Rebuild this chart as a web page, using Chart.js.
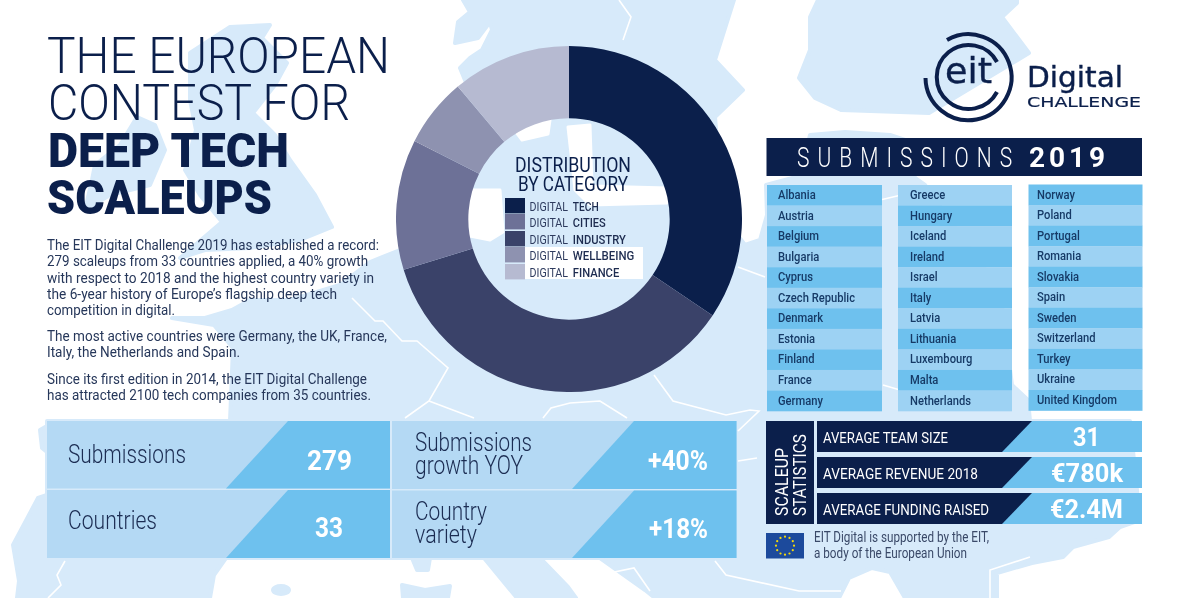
<!DOCTYPE html>
<html>
<head>
<meta charset="utf-8">
<title>EIT Digital Challenge 2019</title>
<script src="https://cdn.jsdelivr.net/npm/chart.js@4"></script>
<style>
html, body { margin: 0; padding: 0; background: #fff; }
#page { position: relative; width: 1200px; height: 598px; overflow: hidden; background: #fff; }
#map, #overlay { position: absolute; left: 0; top: 0; }
#donutBox { position: absolute; left: 396px; top: 46px; width: 346px; height: 346px; }
text { font-family: Roboto, sans-serif; }
</style>
</head>
<body>
<div id="page">
  <!-- background map, only decoration -->
  <svg id="map" width="1200" height="598">
    <g fill="#d7eafa" stroke="#d7eafa" stroke-width="4" stroke-linejoin="round">
      <path d="M172,318 L205,318 232,310 250,300 290,300 340,285 370,262 400,250 420,225 440,150 467,85 460,68 470,58 482,50 492,30 490,22 478,38 455,43 458,22 470,12 463,0 734,0 715,60 743,90 715,117 720,180 730,225 745,245 760,240 767,215 766,185 800,176 810,135 845,132 890,135 905,140 915,178 925,185 1000,290 1012,385 1028,400 1030,421 1130,421 1140,520 1120,527 1109,537 1073,547 1063,557 1032,563 997,573 997,598 905,598 890,572 872,568 849,578 839,598 655,598 645,590 600,558 540,558 568,587 576,598 517,598 484,558 430,558 428,570 417,570 412,558 226,558 214,575 210,598 17,598 19,581 13,545 38,498 47,495 47,421 230,421 233,348 214,325 z"/>
      <path d="M818,0 L810,17 810,50 799,78 815,98 841,110 929,113 1029,53 1002,17 1017,3 1017,0 z"/>
      <path d="M230,27 L270,25 262,38 287,63 275,85 253,113 275,135 290,160 315,195 332,227 300,240 250,248 205,250 180,258 222,222 200,195 185,170 196,130 190,100 190,53 z"/>
      <path d="M137,117 L155,125 165,150 150,185 110,195 85,210 92,180 95,165 120,145 z"/>
      <path d="M40,430 L47,426 47,452 42,448 z"/>
      <ellipse cx="281" cy="590" rx="8" ry="4"/>
      <path d="M402,585 L425,590 450,586 448,598 403,598 z"/>
    </g>
    <!-- sea inside the donut hole -->
    <g fill="#fff" stroke="#fff" stroke-width="3" stroke-linejoin="round">
      <path d="M468,190 L500,190 503,232 490,240 470,236 z"/>
      <path d="M510,124 L550,120 548,134 522,140 z"/>
      <path d="M568,127 L590,125 592,186 667,188 667,203 590,205 575,190 z"/>
    </g>
    <g fill="none" stroke="#fff" stroke-width="1.6">
      <path d="M352,298 L375,321 383,321 402,341 417,341 448,368 429,401 405,418"/>
      <path d="M429,401 L474,418"/>
      <path d="M543,418 L551,408 570,403 600,401 627,418"/>
      <path d="M654,375 L673,401 726,415 750,410 759,411 738,431"/>
      <path d="M738,461 L757,458"/>
      <path d="M600,575 L634,568 650,591"/>
      <path d="M715,561 L726,575 799,591 841,591"/>
      <path d="M65,561 L57,575 61,585 48,598"/>
      <path d="M619,0 L631,17 623,40"/>
      <path d="M880,200 L910,193"/>
      <path d="M738,267 L765,277"/>
      <path d="M883,385 L900,390"/>
      <path d="M990,598 L990,570 1030,557"/>
    </g>
  </svg>
  <div id="donutBox"><canvas id="donut"></canvas></div>
  <svg id="overlay" width="1200" height="598"></svg>
</div>

<script>
// doughnut, clockwise from the top
const categories = ['Digital Tech', 'Digital Industry', 'Digital Cities', 'Digital Wellbeing', 'Digital Finance'];
const shares = [96, 100, 34, 18, 31];
const sliceColors = ['#0b1f4b', '#3a4269', '#6d7197', '#8e92b0', '#b6bad1'];

// legend reads in a different order than the slices
const legendNames = ['TECH', 'CITIES', 'INDUSTRY', 'WELLBEING', 'FINANCE'];

const countriesA = ['Albania', 'Austria', 'Belgium', 'Bulgaria', 'Cyprus', 'Czech Republic', 'Denmark', 'Estonia', 'Finland', 'France', 'Germany'];
const countriesB = ['Greece', 'Hungary', 'Iceland', 'Ireland', 'Israel', 'Italy', 'Latvia', 'Lithuania', 'Luxembourg', 'Malta', 'Netherlands'];
const countriesC = ['Norway', 'Poland', 'Portugal', 'Romania', 'Slovakia', 'Spain', 'Sweden', 'Switzerland', 'Turkey', 'Ukraine', 'United Kingdom'];

const scaleupLabels = ['AVERAGE TEAM SIZE', 'AVERAGE REVENUE 2018', 'AVERAGE FUNDING RAISED'];
const scaleupValues = ['31', '€780k', '€2.4M'];

const NAVY = '#0b1f4b';
const BLUE = '#6ec1ee';
const PALE = '#b4d9f4';
const ROW = '#9dd2f3';
const INK = '#1b2c52';

new Chart(document.getElementById('donut'), {
    type: 'doughnut',
    data: {
        labels: categories,
        datasets: [{ data: shares, backgroundColor: sliceColors, borderWidth: 0 }]
    },
    options: {
        responsive: true,
        maintainAspectRatio: false,
        animation: false,
        cutout: '58.2%',
        layout: { padding: 0 },
        plugins: { legend: { display: false }, tooltip: { enabled: false } }
    }
});

const overlay = document.getElementById('overlay');

function el(name, attrs, parent) {
    const node = document.createElementNS('http://www.w3.org/2000/svg', name);
    for (const k in attrs) node.setAttribute(k, attrs[k]);
    (parent || overlay).appendChild(node);
    return node;
}
function rect(x, y, w, h, fill) {
    return el('rect', { x: x, y: y, width: w, height: h, fill: fill });
}
function poly(points, fill) {
    return el('polygon', { points: points, fill: fill });
}
function label(str, x, y, width, size, weight, fill, extra) {
    const t = el('text', Object.assign({ x: x, y: y, 'font-size': size, 'font-weight': weight, fill: fill }, extra || {}));
    t.textContent = str;
    if (width) {
        t.setAttribute('textLength', width);
        t.setAttribute('lengthAdjust', 'spacingAndGlyphs');
    }
    return t;
}
function narrow(str, x, y, ratio, size, weight, fill) {
    const t = label(str, x, y, 0, size, weight, fill);
    t.setAttribute('textLength', (t.getComputedTextLength() * ratio).toFixed(1));
    t.setAttribute('lengthAdjust', 'spacingAndGlyphs');
    return t;
}

// headline
label('THE EUROPEAN', 47, 73, 343, 49.5, 300, NAVY);
label('CONTEST FOR', 48, 120, 302, 49.5, 300, NAVY);
label('DEEP TECH', 48, 167, 241, 48, 900, NAVY);
label('SCALEUPS', 47, 214, 225, 48, 900, NAVY);

// intro copy
const copy = [
    ['The EIT Digital Challenge 2019 has established a record:', 250, 332],
    ['279 scaleups from 33 countries applied, a 40% growth', 266, 321],
    ['with respect to 2018 and the highest country variety in', 283, 327],
    ['the 6-year history of Europe\u2019s flagship deep tech', 299, 290],
    ['competition in digital.', 315, 128],
    ['The most active countries were Germany, the UK, France,', 341, 340],
    ['Italy, the Netherlands and Spain.', 357, 193],
    ['Since its first edition in 2014, the EIT Digital Challenge', 384, 320],
    ['has attracted 2100 tech companies from 35 countries.', 400, 324]
];
copy.forEach(c => label(c[0], 47, c[1], c[2], 14.5, 400, '#26375a'));

// four number panels
function panel(x, y, h, wedgeTop, wedgeBottom, right) {
    rect(x, y, right - x, h, PALE);
    poly(`${wedgeTop},${y} ${right},${y} ${right},${y + h} ${wedgeBottom},${y + h}`, BLUE);
}
panel(47, 421, 67.5, 288, 226, 390);
panel(47, 490, 68, 288, 226, 390);
panel(392, 421, 68, 634, 572, 736.5);
panel(392, 490.5, 67.5, 634, 572, 736.5);

label('Submissions', 68, 463, 118, 25, 300, INK);
label('Countries', 68, 529, 89, 25, 300, INK);
label('Submissions', 415, 451, 117, 25, 300, INK);
label('growth YOY', 415, 474, 108, 25, 300, INK);
label('Country', 415, 520, 72, 25, 300, INK);
label('variety', 415, 543, 62, 25, 300, INK);
label('279', 307, 470, 45, 28, 700, '#fff');
label('33', 315, 537, 28, 28, 700, '#fff');
label('+40%', 648, 470, 60, 28, 700, '#fff');
label('+18%', 649, 538, 59, 28, 700, '#fff');

// donut centre
label('DISTRIBUTION', 515, 172, 116, 20, 400, NAVY);
label('BY CATEGORY', 518, 191, 110, 20, 400, NAVY);
rect(525, 247, 118, 32, '#fff');
const legendTops = [198, 214, 231, 247, 264];
const legendBases = [211, 227, 244, 260, 277];
const legendColors = [sliceColors[0], sliceColors[2], sliceColors[1], sliceColors[3], sliceColors[4]];
const legendWidths = [26, 33, 53, 61.5, 46.5];
legendNames.forEach((name, i) => {
    rect(505, legendTops[i], 20, 15.4, legendColors[i]);
    label('DIGITAL', 529.5, legendBases[i], 38.5, 13, 400, '#2e3b5e');
    label(name, 572.8, legendBases[i], legendWidths[i], 13, 500, '#1e2c50');
});

// logo
const logo = { stroke: NAVY, fill: 'none', 'stroke-width': 4 };
el('path', Object.assign({ d: 'M947,40 A43,43 0 1 1 925.5,78' }, logo));
el('path', Object.assign({ d: 'M997,62 A32,32 0 1 0 997,92' }, logo));
const logoFont = { style: 'font-family:"DejaVu Sans"', stroke: NAVY, 'stroke-width': 0.4 };
label('eit', 945, 83, 47, 36, 400, NAVY, logoFont);
label('Digital', 1027, 87, 96, 28, 400, NAVY, logoFont);
label('CHALLENGE', 1027, 107, 114, 14, 400, NAVY, { style: 'font-family:"DejaVu Sans"', stroke: NAVY, 'stroke-width': 0.2 });

// submissions list, narrow glyphs with wide spacing
const subTitle = label('SUBMISSIONS', 0, 167, 0, 28, 300, '#fff', { transform: 'translate(797 0) scale(0.75 1)' });
overlay.insertBefore(rect(766.5, 138, 375.5, 38, NAVY), subTitle);
subTitle.setAttribute('textLength', 287);
subTitle.setAttribute('lengthAdjust', 'spacing');
const subYear = label('2019', 1029, 167, 0, 28, 700, '#fff');
subYear.setAttribute('textLength', 76);
subYear.setAttribute('lengthAdjust', 'spacing');

function countryColumn(names, x, width, top, textX, firstDark) {
    names.forEach((name, i) => {
        const y = top + i * 20.55;
        const dark = (i % 2 === 0) === firstDark;
        rect(x, y, width, 20.8, dark ? BLUE : ROW);
        narrow(name, textX, y + 14, 0.86, 13, 500, '#163a66');
    });
}
countryColumn(countriesA, 767, 115, 185, 778, true);
countryColumn(countriesB, 898, 114, 185, 910, false);
countryColumn(countriesC, 1028.5, 114, 184.5, 1037, true);

// scaleup statistics
rect(766, 421, 48, 103, NAVY);
label('SCALEUP', 788, 516, 68, 18.5, 400, '#fff', { transform: 'rotate(-90 788 516)' });
label('STATISTICS', 806, 516, 82, 18.5, 400, '#fff', { transform: 'rotate(-90 806 516)' });
const barTops = [421, 457, 493];
const valueX = [1073, 1051, 1050];
const valueW = [27, 72, 73];
scaleupLabels.forEach((text, i) => {
    const y = barTops[i];
    rect(817, y, 325, 31, BLUE);
    poly(`817,${y} 1032,${y} 1002,${y + 31} 817,${y + 31}`, NAVY);
    label(text, 823, y + 22, [125, 155, 166][i], 15.5, 400, '#fff');
    label(scaleupValues[i], valueX[i], y + 25, valueW[i], 26, 700, '#fff');
});

// EU flag and note
rect(766, 533, 38, 25.5, '#1c4a9c');
for (let s = 0; s < 12; s++) {
    const a = s * Math.PI / 6;
    el('circle', { cx: 785 + 9 * Math.cos(a), cy: 545.7 + 9 * Math.sin(a), r: 1.1, fill: '#f5d90a' });
}
label('EIT Digital is supported by the EIT,', 814, 542, 175, 14.5, 400, '#3a4968');
label('a body of the European Union', 814, 558, 153, 14.5, 400, '#3a4968');
</script>
</body>
</html>
